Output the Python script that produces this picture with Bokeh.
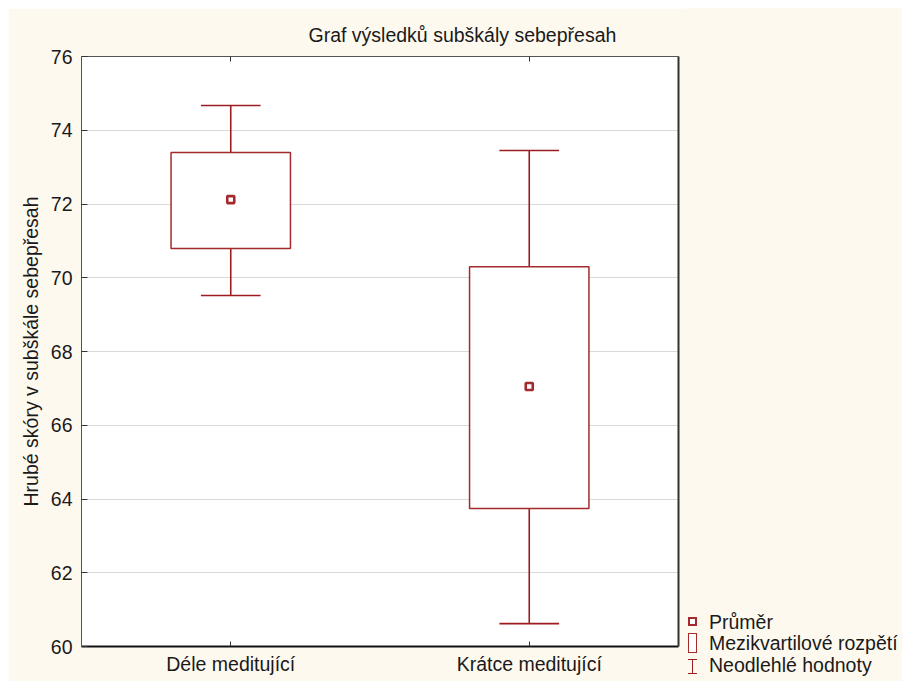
from bokeh.plotting import figure
from bokeh.models import (ColumnDataSource, FactorRange, Range1d, FixedTicker,
                          LinearAxis, CategoricalAxis, Div)
from bokeh.transform import dodge
from bokeh.layouts import row
from bokeh.embed import file_html
from bokeh.resources import INLINE

# ---- data ----
categories = ["Déle meditující", "Krátce meditující"]
means = [72.12, 67.05]
q1 = [70.79, 63.74]
q3 = [73.40, 70.30]
lower = [69.52, 60.62]
upper = [74.67, 73.45]
y_ticks = [60, 62, 64, 66, 68, 70, 72, 74, 76]
title_text = "Graf výsledků subškály sebepřesah"
y_label = "Hrubé skóry v subškále sebepřesah"
legend_labels = ["Průměr", "Mezikvartilové rozpětí", "Neodlehlé hodnoty"]

CREAM = "#fef9ef"
RED = "#9b1d20"
BOXRED = "#a52a2d"
FONT = "Liberation Sans"
FS = "19.5px"

src = ColumnDataSource(dict(cat=categories, mean=means, q1=q1, q3=q3,
                            lower=lower, upper=upper))

p = figure(x_range=FactorRange(*categories), y_range=Range1d(60, 76),
           width=677, height=673, output_backend="svg", toolbar_location=None,
           min_border_left=73, min_border_right=7, min_border_top=48,
           min_border_bottom=35, background_fill_color="white",
           border_fill_color=CREAM, outline_line_color=None)

p.title.text = title_text
p.title.align = "left"
p.title.offset = 227
p.title.text_font = FONT
p.title.text_font_size = FS
p.title.text_font_style = "normal"
p.title.text_color = "#1a1a1a"
p.title.standoff = 22

# left axis
ya = p.yaxis[0]
ya.ticker = FixedTicker(ticks=y_ticks)
ya.major_tick_in = 6
ya.major_tick_out = 0
ya.minor_tick_in = 0
ya.minor_tick_out = 0
ya.major_label_standoff = 9
ya.major_label_text_font = FONT
ya.major_label_text_font_size = FS
ya.major_label_text_color = "#1a1a1a"
ya.axis_label = y_label
ya.axis_label_text_font = FONT
ya.axis_label_text_font_size = FS
ya.axis_label_text_font_style = "normal"
ya.axis_label_text_color = "#1a1a1a"
ya.axis_label_standoff = 6
ya.axis_line_color = "#555555"
ya.major_tick_line_color = "#333333"

# bottom axis
xa = p.xaxis[0]
xa.major_tick_in = 5
xa.major_tick_out = 0
xa.major_label_standoff = 6
xa.major_label_text_font = FONT
xa.major_label_text_font_size = FS
xa.major_label_text_color = "#1a1a1a"
xa.axis_line_color = "#111111"
xa.axis_line_width = 2
xa.major_tick_line_color = "#333333"

# top axis: tick marks only (labels not drawn)
ta = CategoricalAxis(major_tick_in=5, major_tick_out=0,
                     major_label_text_font_size="1px", major_label_text_color=None,
                     major_label_standoff=0,
                     axis_line_color="#555555", major_tick_line_color="#333333")
p.add_layout(ta, "above")

# right axis (frame line only)
ra = LinearAxis(ticker=FixedTicker(ticks=[]),
                major_tick_in=0, major_tick_out=0, minor_tick_in=0, minor_tick_out=0,
                major_label_standoff=0,
                axis_line_color="#333333", axis_line_width=2)
p.add_layout(ra, "right")

p.xgrid.grid_line_color = None
p.ygrid.ticker = FixedTicker(ticks=y_ticks)
p.ygrid.grid_line_color = "#d9d9d9"
p.ygrid.grid_line_width = 1

# whiskers
p.segment(x0="cat", y0="q3", x1="cat", y1="upper", source=src,
          line_color=RED, line_width=1.6)
p.segment(x0="cat", y0="lower", x1="cat", y1="q1", source=src,
          line_color=RED, line_width=1.6)
p.segment(x0=dodge("cat", -0.1, range=p.x_range), y0="upper",
          x1=dodge("cat", 0.1, range=p.x_range), y1="upper", source=src,
          line_color=RED, line_width=1.6)
p.segment(x0=dodge("cat", -0.1, range=p.x_range), y0="lower",
          x1=dodge("cat", 0.1, range=p.x_range), y1="lower", source=src,
          line_color=RED, line_width=1.6)
# boxes
p.vbar(x="cat", width=0.4, bottom="q1", top="q3", source=src,
       fill_color="white", line_color=BOXRED, line_width=1.5)
# means
p.scatter(x="cat", y="mean", marker="square", size=7, source=src,
          fill_color="white", line_color=BOXRED, line_width=2.6)

# ---- legend panel to the right of the plot (positions in panel pixels) ----
LW, LH = 217, 673
row_top = [603, 624, 646]   # top of each 22px legend row
icons = [
    f'<div style="position:absolute;left:3px;top:{row_top[0] + 6}px;width:9px;height:9px;'
    f'box-sizing:border-box;border:2.5px solid {BOXRED};background:#fff;"></div>',
    f'<div style="position:absolute;left:3px;top:{row_top[1] + 1}px;width:9px;height:20px;'
    f'box-sizing:border-box;border:1.5px solid {BOXRED};background:#fff;"></div>',
    f'<div style="position:absolute;left:7px;top:{row_top[2] + 5}px;width:1.4px;height:15px;'
    f'background:{RED};"></div>'
    f'<div style="position:absolute;left:3px;top:{row_top[2] + 5}px;width:9px;height:1.4px;'
    f'background:{RED};"></div>'
    f'<div style="position:absolute;left:3px;top:{row_top[2] + 19}px;width:9px;height:1.4px;'
    f'background:{RED};"></div>',
]
texts = "".join(
    f'<div style="position:absolute;left:24px;top:{t}px;height:22px;line-height:22px;'
    f'white-space:nowrap;">{lab}</div>'
    for lab, t in zip(legend_labels, row_top)
)
legend_html = (
    f'<div style="position:relative;width:{LW}px;height:{LH}px;margin:0;padding:0;'
    f'background:{CREAM};font-family:\'{FONT}\';font-size:{FS};color:#1a1a1a;">'
    + "".join(icons) + texts + "</div>"
)
legend = Div(text=legend_html, width=LW, height=LH, margin=0,
             styles={"background-color": CREAM})

layout = row(p, legend, margin=(8, 0, 0, 8))
open("out.html", "w").write(file_html(layout, INLINE))
